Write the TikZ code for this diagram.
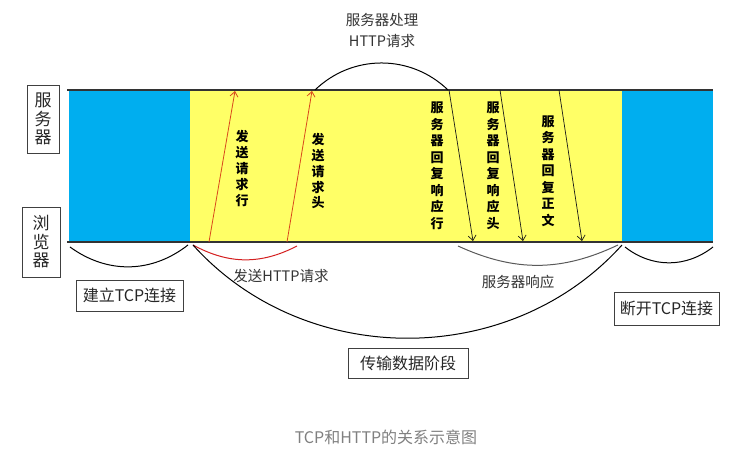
\documentclass[tikz,border=0pt]{standalone}
\usepackage{fontspec}
\newfontfamily\cjk{Noto Sans CJK SC}
\usetikzlibrary{arrows.meta}
\definecolor{linkblue}{HTML}{00AEEF}
\definecolor{datayellow}{HTML}{FFFF66}
\definecolor{reqred}{HTML}{D9481C}
\definecolor{arcred}{HTML}{D42020}
\begin{document}
\begin{tikzpicture}[x=1pt,y=1pt,
    tag/.style={draw=black!75,line width=0.8pt,text=black!85,inner sep=0pt,align=center,
      font=\cjk\fontsize{16}{18.5}\selectfont},
    note/.style={font=\cjk\fontsize{14.5}{21}\selectfont,text=black!80,align=center},
    vtxt/.style={font=\cjk\bfseries\fontsize{13}{16.5}\selectfont,align=center,inner sep=0pt},
    req/.style={reqred,line width=0.8pt,-{Straight Barb[length=5pt,width=8pt]}},
    resp/.style={black!90,line width=0.7pt,-{Straight Barb[length=5pt,width=8pt]}},
    phase/.style={line width=1pt}]
    \useasboundingbox (0,0) rectangle (756,471);
    % phases
    \fill[linkblue] (69,229) rectangle (190,381);
    \fill[datayellow] (190,229) rectangle (622,381);
    \fill[linkblue] (622,229) rectangle (713,381);
    \coordinate (s0) at (67,381); \coordinate (s1) at (713,381);
    \coordinate (b0) at (67,229); \coordinate (b1) at (713,229);
    \draw[black!80,line width=1.6pt] (s0) -- (s1);
    \draw[black!80,line width=1.6pt] (b0) -- (b1);
    % side labels
    \node[tag,minimum width=32pt,minimum height=68pt,font=\cjk\fontsize{17}{18.5}\selectfont] (server) at (43,352) {服\\务\\器};
    \node[tag,minimum width=38pt,minimum height=70pt,font=\cjk\fontsize{17}{18.5}\selectfont] (browser) at (41,229) {浏\\览\\器};
    % request
    \coordinate (q1a) at (209,229); \coordinate (q1b) at (235,380);
    \coordinate (q2a) at (287,229); \coordinate (q2b) at (312,380);
    \draw[req] (q1a) -- (q1b);
    \draw[req] (q2a) -- (q2b);
    \node[vtxt,font=\cjk\bfseries\fontsize{13}{16}\selectfont] (rline) at (242,302) {发\\送\\请\\求\\行};
    \node[vtxt,font=\cjk\bfseries\fontsize{13}{16}\selectfont] (rhead) at (318,300) {发\\送\\请\\求\\头};
    % response
    \coordinate (p1a) at (449,381); \coordinate (p1b) at (473,230);
    \coordinate (p2a) at (500,381); \coordinate (p2b) at (523,230);
    \coordinate (p3a) at (559,381); \coordinate (p3b) at (582,230);
    \draw[resp] (p1a) -- (p1b);
    \draw[resp] (p2a) -- (p2b);
    \draw[resp] (p3a) -- (p3b);
    \node[vtxt] (aline) at (437,305) {服\\务\\器\\回\\复\\响\\应\\行};
    \node[vtxt] (ahead) at (493,305) {服\\务\\器\\回\\复\\响\\应\\头};
    \node[vtxt] (abody) at (548,300) {服\\务\\器\\回\\复\\正\\文};
    % server processing
    \coordinate (h0) at (315,381); \coordinate (h1) at (448,381);
    \draw[phase] (h0) to[bend left=44] (h1);
    \node[note] (proc) at (382,440) {服务器处理\\HTTP请求};
    % arcs under the browser line
    \coordinate (c0) at (70,224); \coordinate (c1) at (188,226);
    \coordinate (t0) at (193,226); \coordinate (t1) at (622,226);
    \coordinate (r1) at (297,225);
    \coordinate (g0) at (458,225); \coordinate (g1) at (618,226);
    \coordinate (d0) at (625,224); \coordinate (d1) at (713,224);
    \draw[phase] (c0) to[bend right=37] (c1);
    \draw[phase,arcred] (t0) to[bend right=28] (r1);
    \draw[phase] (t0) to[bend right=48] (t1);
    \draw[phase,black!65] (g0) to[bend right=25] (g1);
    \draw[phase] (d0) to[bend right=38] (d1);
    \node[note] (sendreq) at (281,195) {发送HTTP请求};
    \node[note] (servresp) at (518,189) {服务器响应};
    \node[tag,minimum width=107pt,minimum height=31pt] (open) at (129.5,175.5) {建立TCP连接};
    \node[tag,minimum width=105pt,minimum height=33pt] (close) at (666.5,162.5) {断开TCP连接};
    \node[tag,minimum width=120pt,minimum height=30pt] (transfer) at (408,108) {传输数据阶段};
    \node[font=\cjk\fontsize{16}{18}\selectfont,text=black!50] (caption) at (386,34) {TCP和HTTP的关系示意图};
\end{tikzpicture}
\end{document}
